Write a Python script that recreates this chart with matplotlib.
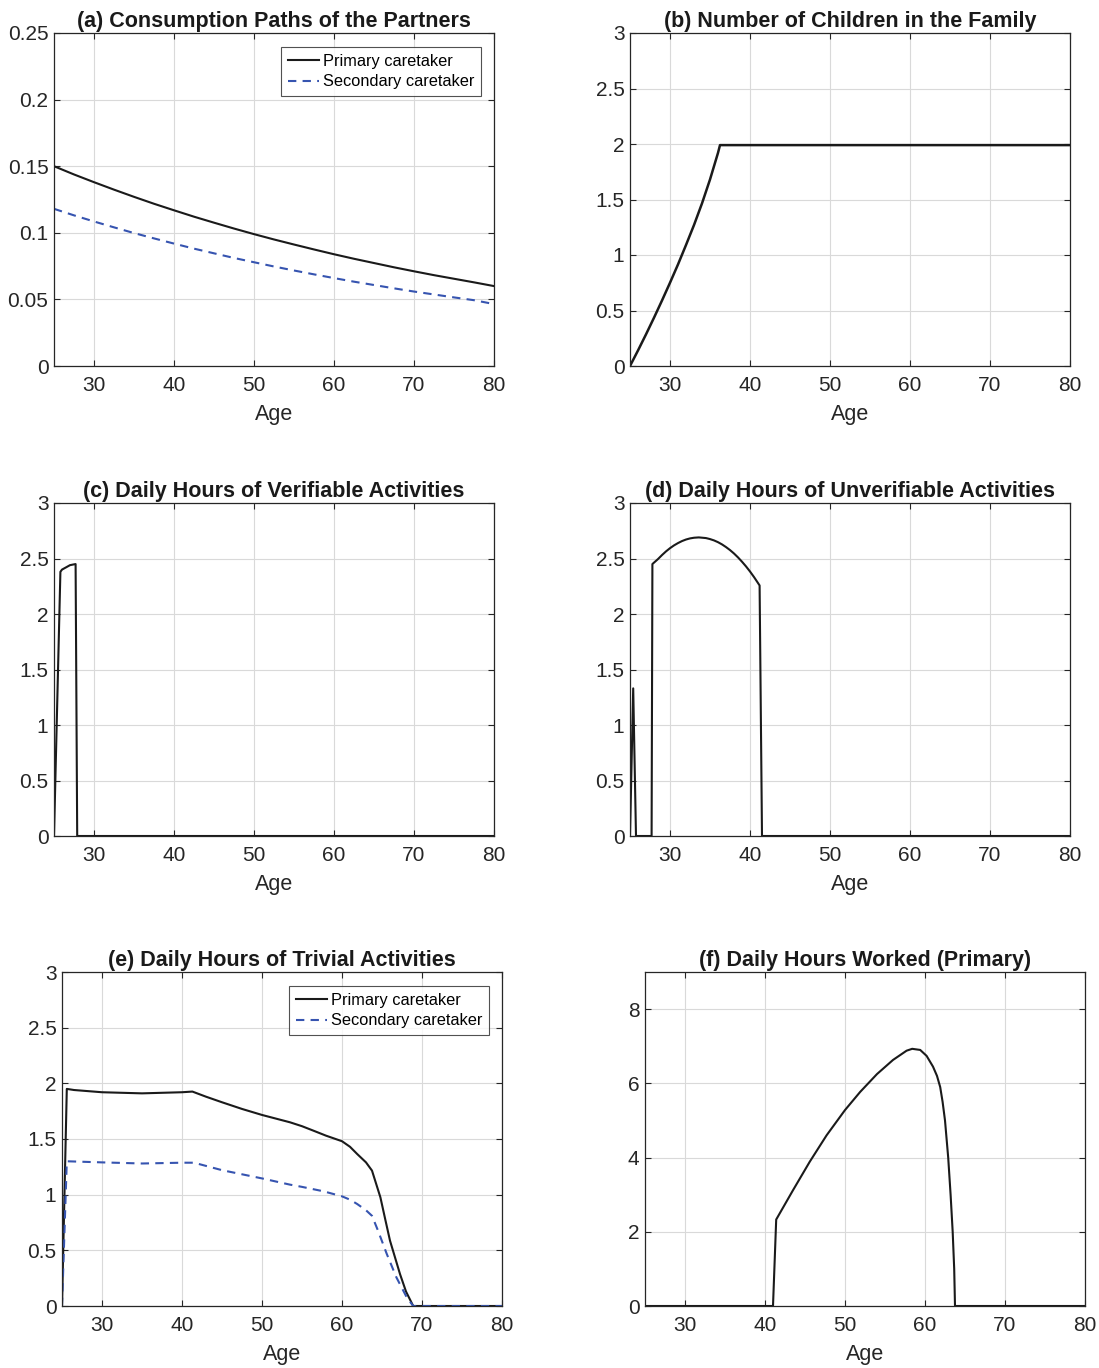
import numpy as np
import matplotlib.pyplot as plt
from matplotlib.ticker import FormatStrFormatter

plt.rcParams['font.family'] = ['Liberation Sans', 'DejaVu Sans']

# (a) consumption paths
age_a = [25, 27.5, 30, 32.5, 35, 37.5, 40, 42.5, 45, 47.5, 50, 52.5, 55, 57.5, 60, 62.5, 65, 67.5,
         70, 72.5, 75, 77.5, 80]
cons_primary = [0.150, 0.1438, 0.1380, 0.1324, 0.1270, 0.1218, 0.1169, 0.1121, 0.1076, 0.1032,
                0.0990, 0.0950, 0.0912, 0.0875, 0.0839, 0.0805, 0.0773, 0.0741, 0.0711, 0.0682,
                0.0655, 0.0628, 0.0600]
cons_secondary = [0.118, 0.1131, 0.1085, 0.1041, 0.0998, 0.0958, 0.0919, 0.0881, 0.0846, 0.0811,
                  0.0779, 0.0747, 0.0717, 0.0688, 0.0660, 0.0633, 0.0608, 0.0583, 0.0559, 0.0537,
                  0.0515, 0.0494, 0.0465]

# (b) number of children
age_b = [25, 26, 27, 28, 29, 30, 31, 32, 33, 34, 35, 36, 36.25, 80]
children = [0, 0.14, 0.285, 0.435, 0.59, 0.75, 0.915, 1.09, 1.27, 1.465, 1.68, 1.92, 1.99, 1.99]

# (c) verifiable activities
age_c = [25, 25.8, 26.0, 26.5, 27.0, 27.7, 27.9, 80]
verifiable = [0, 2.38, 2.40, 2.42, 2.44, 2.45, 0, 0]

# (d) unverifiable activities
age_d = [25, 25.4, 25.75, 27.7, 27.8, 28.5, 29, 29.5, 30, 30.5, 31, 31.5, 32, 32.5, 33, 33.6,
         34.5, 35, 35.5, 36, 36.5, 37, 37.5, 38, 38.5, 39, 39.5, 40, 40.5, 41, 41.2, 41.5, 80]
unverifiable = [0, 1.33, 0, 0, 2.45, 2.495, 2.531, 2.564, 2.593, 2.618, 2.639, 2.657, 2.671, 2.681,
                2.687, 2.69, 2.684, 2.675, 2.663, 2.647, 2.627, 2.603, 2.576, 2.545, 2.510, 2.471,
                2.429, 2.383, 2.333, 2.279, 2.257, 0, 0]

# (e) trivial activities
age_e = [25, 25.6, 26.5, 30, 35, 40, 41.3, 43, 45, 47.5, 50, 53.5, 55, 56.6, 58, 60, 61, 61.9, 63,
         63.75, 64.8, 65.4, 66, 67.25, 68, 68.9, 80]
trivial_primary = [0, 1.95, 1.94, 1.92, 1.91, 1.92, 1.926, 1.88, 1.83, 1.77, 1.716, 1.65, 1.615,
                   1.57, 1.53, 1.48, 1.43, 1.365, 1.29, 1.216, 0.976, 0.78, 0.587, 0.287, 0.13, 0, 0]
age_e2 = [25, 25.6, 30, 35, 40, 41.5, 45, 50, 53.5, 55, 57.7, 60, 61, 61.9, 63, 63.75, 64.5, 65.6,
          66.8, 68.1, 68.9, 80]
trivial_secondary = [0, 1.30, 1.29, 1.28, 1.287, 1.287, 1.22, 1.146, 1.09, 1.07, 1.03, 0.985, 0.955,
                     0.916, 0.86, 0.81, 0.677, 0.467, 0.257, 0.077, 0, 0]

# (f) hours worked (primary)
age_f = [25, 41.0, 41.4, 43.5, 45.6, 47.7, 50, 51.9, 54, 56, 57.7, 58.4, 59.4, 60.2, 61, 61.5,
         61.9, 62.2, 62.5, 62.9, 63.2, 63.46, 63.65, 63.75, 80]
worked = [0, 0, 2.33, 3.12, 3.89, 4.60, 5.28, 5.77, 6.25, 6.63, 6.88, 6.93, 6.90, 6.74, 6.45, 6.2,
          5.9, 5.5, 5.0, 4.0, 3.0, 2.0, 1.0, 0, 0]

W, H = 1099, 1368
fig = plt.figure(figsize=(W / 100, H / 100), dpi=100)

blue = '#3654b0'
dark = '#1a1a1a'
yt3 = [0, 0.5, 1, 1.5, 2, 2.5, 3]


def make_ax(left, top, right, bottom):
    ax = fig.add_axes([left / W, 1 - bottom / H, (right - left) / W, (bottom - top) / H])
    ax.set_xlim(25, 80)
    ax.set_xticks([30, 40, 50, 60, 70, 80])
    ax.grid(True, color='#d9d9d9', linewidth=0.8)
    ax.set_axisbelow(True)
    ax.tick_params(direction='in', top=True, right=True, length=4, width=0.8,
                   labelsize=15, colors='#262626')
    ax.tick_params(axis='x', pad=7)
    ax.tick_params(axis='y', pad=4)
    for s in ax.spines.values():
        s.set_color('#262626')
        s.set_linewidth(0.9)
    ax.set_xlabel('Age', fontsize=15.5, color='#262626', labelpad=7)
    return ax


def add_title(ax, text):
    ax.set_title(text, fontsize=15.5, fontweight='bold', color='#1a1a1a', pad=4)


def add_legend(ax):
    leg = ax.legend(loc='upper right', bbox_to_anchor=(0.97, 0.958), fontsize=11.8,
                    frameon=True, fancybox=False, handlelength=1.9, handletextpad=0.25,
                    borderaxespad=0, borderpad=0.4, labelspacing=0.35)
    leg.get_frame().set_edgecolor('#262626')
    leg.get_frame().set_linewidth(0.8)


ax = make_ax(54, 33, 494, 366)
ax.plot(age_a, cons_primary, color=dark, lw=1.5, label='Primary caretaker')
ax.plot(age_a, cons_secondary, color=blue, lw=1.5, ls=(0, (4, 3)), label='Secondary caretaker')
ax.set_ylim(0, 0.25)
ax.set_yticks([0, 0.05, 0.1, 0.15, 0.2, 0.25])
ax.yaxis.set_major_formatter(FormatStrFormatter('%g'))
add_title(ax, '(a) Consumption Paths of the Partners')
add_legend(ax)

ax = make_ax(630, 33, 1070, 366)
ax.plot(age_b, children, color=dark, lw=1.8)
ax.set_ylim(0, 3)
ax.set_yticks(yt3)
ax.yaxis.set_major_formatter(FormatStrFormatter('%g'))
add_title(ax, '(b) Number of Children in the Family')

ax = make_ax(54, 503, 494, 836)
ax.plot(age_c, verifiable, color=dark, lw=1.5)
ax.set_ylim(0, 3)
ax.set_yticks(yt3)
ax.yaxis.set_major_formatter(FormatStrFormatter('%g'))
add_title(ax, '(c) Daily Hours of Verifiable Activities')

ax = make_ax(630, 503, 1070, 836)
ax.plot(age_d, unverifiable, color=dark, lw=1.5)
ax.set_ylim(0, 3)
ax.set_yticks(yt3)
ax.yaxis.set_major_formatter(FormatStrFormatter('%g'))
add_title(ax, '(d) Daily Hours of Unverifiable Activities')

ax = make_ax(62, 972, 502, 1306)
ax.plot(age_e, trivial_primary, color=dark, lw=1.5, label='Primary caretaker')
ax.plot(age_e2, trivial_secondary, color=blue, lw=1.5, ls=(0, (4, 3)), label='Secondary caretaker')
ax.set_ylim(0, 3)
ax.set_yticks(yt3)
ax.yaxis.set_major_formatter(FormatStrFormatter('%g'))
add_title(ax, '(e) Daily Hours of Trivial Activities')
add_legend(ax)

ax = make_ax(645, 972, 1085, 1306)
ax.plot(age_f, worked, color=dark, lw=1.5)
ax.set_ylim(0, 9)
ax.set_yticks([0, 2, 4, 6, 8])
add_title(ax, '(f) Daily Hours Worked (Primary)')

fig.savefig('out.png', dpi=100, facecolor='white')
